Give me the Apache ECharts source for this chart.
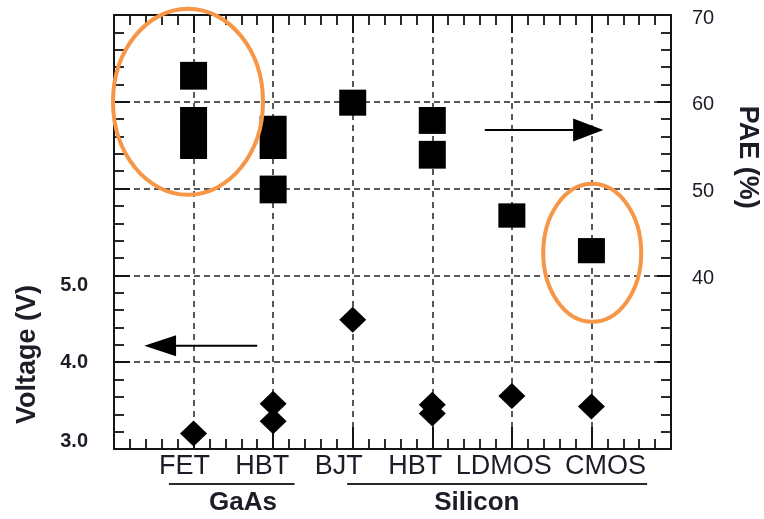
<!DOCTYPE html>
<html>
<head>
<meta charset="utf-8">
<script src="https://cdn.jsdelivr.net/npm/echarts@6/dist/echarts.min.js"></script>
<style>
  html, body { margin: 0; padding: 0; background: #ffffff; }
  #chart { width: 764px; height: 519px; }
</style>
</head>
<body>
<div id="chart"></div>
<script>
// ---- data ----------------------------------------------------------------
// device technologies along the x axis (positions 1..6)
const categories = ['FET', 'HBT', 'BJT', 'HBT', 'LDMOS', 'CMOS'];

// material groups under the category labels
const groupNames = ['GaAs', 'Silicon'];

// supply voltage (left axis, V)
const voltagePos = [1, 2, 2, 3, 4, 4, 5, 6];
const voltageVal = [3.18, 3.52, 3.32, 4.49, 3.51, 3.41, 3.61, 3.49];

// power-added efficiency ranges (right axis, %)
const paePos  = [1, 1, 2, 2, 3, 4, 4, 5, 6];
const paeLow  = [61.4, 53.4, 53.4, 48.3, 58.4, 56.3, 52.3, 45.5, 41.4];
const paeHigh = [64.6, 59.4, 58.4, 51.5, 61.4, 59.4, 55.5, 48.3, 44.3];

// labelled ticks
const voltageTicks = [3, 4, 5];
const paeTicks = [40, 50, 60, 70];

// ---- styling / layout -----------------------------------------------------
const INK = '#141414';
const TEXT = '#1d1d28';
const FONT = '"Liberation Sans", Arial, sans-serif';
const ORANGE = '#f79646';
const BOX_W = 27;

// horizontal nudge (px) of each category label from its tick
const labelShift = [-9, -11, -14, -17, -8, 14];

// underline spans and label centres of the material groups (x-axis units)
const groupSpan = [[0.69, 2.27], [2.93, 6.70]];
const groupCenter = [1.62, 4.56];

// annotation arrows (data units): y value, shaft start x, head base x, tip x, head half-height px
const arrowLeft  = { axis: 0, y: 4.19, from: 1.80, base: 0.78, tip: 0.38, half: 10.5 };
const arrowRight = { axis: 1, y: 56.75, from: 4.66, base: 5.77, tip: 6.15, half: 11.5 };

// highlight ellipses: centre in data units (PAE axis), radii in px
const rings = [
  { x: 0.93, y: 60.0, rx: 75, ry: 93 },
  { x: 6.01, y: 42.6, rx: 49, ry: 69 }
];

const dashGrid = { color: '#222', width: 1.5, type: [6, 5] };
const tickStyle = { color: INK, width: 2 };
const minorStyle = { color: INK, width: 1.8 };

// rich styles that offset each category label
const catRich = {};
labelShift.forEach((s, i) => {
  catRich['c' + i] = {
    fontSize: 27, color: TEXT, fontFamily: FONT,
    padding: s < 0 ? [0, -2 * s, 0, 0] : [0, 0, 0, 2 * s]
  };
});

function xAxisCfg(position, tickLen, showLabels) {
  return {
    type: 'value', min: 0, max: 7, interval: 1, position: position,
    axisLine: { show: true, onZero: false, lineStyle: { color: INK, width: 2 } },
    axisTick: { show: true, inside: true, length: tickLen, lineStyle: tickStyle },
    minorTick: { show: true, splitNumber: 5, length: 10, lineStyle: minorStyle },
    axisLabel: {
      show: showLabels, margin: 4, fontSize: 27, color: TEXT, fontFamily: FONT,
      showMinLabel: true, showMaxLabel: true,
      formatter: v => (v >= 1 && v <= categories.length)
        ? '{c' + (v - 1) + '|' + categories[v - 1] + '}' : '',
      rich: catRich
    },
    splitLine: { show: showLabels, lineStyle: dashGrid },
    minorSplitLine: { show: false }
  };
}

const series = [
  {
    name: 'PAE', type: 'custom', xAxisIndex: 0, yAxisIndex: 1, z: 5,
    data: paePos.map((p, i) => [p, paeLow[i], paeHigh[i]]),
    renderItem: function (params, api) {
      const top = api.coord([api.value(0), api.value(2)]);
      const bot = api.coord([api.value(0), api.value(1)]);
      return {
        type: 'rect',
        shape: { x: top[0] - BOX_W / 2, y: top[1], width: BOX_W, height: bot[1] - top[1] },
        style: { fill: '#000' }
      };
    }
  },
  {
    name: 'Voltage', type: 'scatter', xAxisIndex: 0, yAxisIndex: 0, z: 5,
    symbol: 'diamond', symbolSize: [27, 26],
    itemStyle: { color: '#000', opacity: 1 },
    data: voltagePos.map((p, i) => [p, voltageVal[i]])
  }
];

const chart = echarts.init(document.getElementById('chart'), null, { renderer: 'canvas' });

chart.setOption({
  animation: false,
  backgroundColor: '#ffffff',
  grid: { left: 114, right: 93, top: 15, bottom: 70, containLabel: false, outerBoundsMode: 'none' },
  xAxis: [xAxisCfg('bottom', 22, true), xAxisCfg('top', 18, false)],
  yAxis: [
    {
      type: 'value', min: 3, max: 8, interval: 1, position: 'left',
      axisLine: { show: true, onZero: false, lineStyle: { color: INK, width: 2 } },
      axisTick: { show: true, inside: true, length: 16, lineStyle: tickStyle },
      minorTick: { show: true, splitNumber: 5, length: 10, lineStyle: minorStyle },
      axisLabel: {
        margin: 26, fontSize: 20, fontWeight: 'bold', color: TEXT, fontFamily: FONT,
        showMinLabel: true, showMaxLabel: true,
        formatter: function (v) {
          if (voltageTicks.indexOf(v) < 0) return '';
          const t = v.toFixed(1);
          if (v === 3) return '{lo|' + t + '}';
          if (v === 5) return '{hi|' + t + '}';
          return t;
        },
        rich: {
          lo: { fontSize: 20, fontWeight: 'bold', color: TEXT, fontFamily: FONT, padding: [0, 0, 16, 0] },
          hi: { fontSize: 20, fontWeight: 'bold', color: TEXT, fontFamily: FONT, padding: [20, 0, 0, 0] }
        }
      },
      splitLine: { show: true, lineStyle: { color: '#222', width: 1.5, type: [6, 4] } }
    },
    {
      type: 'value', min: 20, max: 70, interval: 10, position: 'right',
      axisLine: { show: true, onZero: false, lineStyle: { color: INK, width: 2 } },
      axisTick: { show: true, inside: true, length: 14, lineStyle: tickStyle },
      minorTick: { show: true, splitNumber: 5, length: 10, lineStyle: minorStyle },
      axisLabel: {
        margin: 21, fontSize: 20, color: TEXT, fontFamily: FONT,
        showMinLabel: true, showMaxLabel: true,
        formatter: v => paeTicks.indexOf(v) >= 0 ? '{d|' + v + '}' : '',
        rich: { d: { fontSize: 20, color: TEXT, fontFamily: FONT, padding: [6, 0, 0, 0] } }
      },
      splitLine: { show: false }
    }
  ],
  series: series
});

// ---- annotations placed through the axes ----------------------------------
function px(xv, yv, axis) {
  return chart.convertToPixel({ xAxisIndex: 0, yAxisIndex: axis }, [xv, yv]);
}

const graphics = [];

function textEl(str, x, y, font, rot) {
  return {
    type: 'text', x: x, y: y, rotation: rot || 0, z: 20,
    style: {
      text: str, font: font, fill: TEXT,
      align: 'center', verticalAlign: 'middle',
      textAlign: 'center', textVerticalAlign: 'middle'
    }
  };
}

// axis titles
const vTitle = px(0, 4.09, 0);
graphics.push(textEl('Voltage (V)', 28, vTitle[1], 'bold 27px ' + FONT, Math.PI / 2));
const pTitle = px(0, 53.6, 1);
graphics.push(textEl('PAE (%)', 747, pTitle[1], 'bold 27px ' + FONT, -Math.PI / 2));

// material groups: underline + name
const baseY = px(0, 3, 0)[1];
groupNames.forEach((name, i) => {
  const a = px(groupSpan[i][0], 3, 0)[0];
  const b = px(groupSpan[i][1], 3, 0)[0];
  graphics.push({
    type: 'line', z: 20,
    shape: { x1: a, y1: baseY + 35, x2: b, y2: baseY + 35 },
    style: { stroke: '#2a2a2a', lineWidth: 2 }
  });
  const c = px(groupCenter[i], 3, 0)[0];
  graphics.push(textEl(name, c, baseY + 54, 'bold 26px ' + FONT));
});

// direction arrows
[arrowLeft, arrowRight].forEach(a => {
  const s = px(a.from, a.y, a.axis);
  const b = px(a.base, a.y, a.axis);
  const t = px(a.tip, a.y, a.axis);
  graphics.push({
    type: 'line', z: 20,
    shape: { x1: s[0], y1: s[1], x2: b[0], y2: b[1] },
    style: { stroke: '#000', lineWidth: 2 }
  });
  graphics.push({
    type: 'polygon', z: 20,
    shape: { points: [[t[0], t[1]], [b[0], b[1] - a.half], [b[0], b[1] + a.half]] },
    style: { fill: '#000' }
  });
});

// highlight ellipses
rings.forEach(r => {
  const c = px(r.x, r.y, 1);
  graphics.push({
    type: 'ellipse', z: 30,
    shape: { cx: c[0], cy: c[1], rx: r.rx, ry: r.ry },
    style: { stroke: ORANGE, lineWidth: 4, fill: null }
  });
});

chart.setOption({ graphic: graphics });
</script>
</body>
</html>
